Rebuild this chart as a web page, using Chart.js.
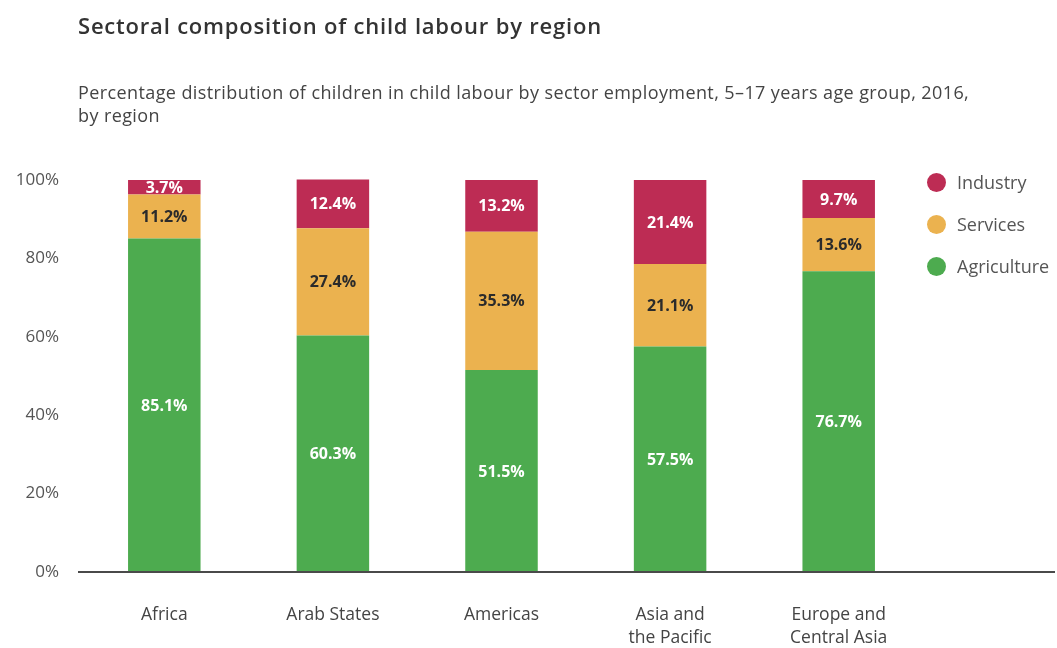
<!DOCTYPE html>
<html lang="en">

<head>
    <meta charset="UTF-8" />
    <title>Sectoral composition of child labour by region</title>
    <script src="https://cdn.jsdelivr.net/npm/chart.js"></script>
    <style>
        body {
            margin: 0;
            background: #fff;
            font-family: "Open Sans", sans-serif;
        }

        .wrap {
            position: relative;
            width: 1057px;
            height: 648px;
        }

        .title {
            position: absolute;
            left: 78px;
            top: 10px;
            font-size: 22px;
            letter-spacing: 0.8px;
            font-weight: 600;
            color: #333;
        }

        .subtitle {
            position: absolute;
            left: 78px;
            top: 81px;
            width: 905px;
            font-size: 18px;
            letter-spacing: 0.4px;
            line-height: 23px;
            color: #444;
        }

        .legend {
            position: absolute;
            left: 927px;
            top: 170px;
            margin: 0;
            padding: 0;
            list-style: none;
        }

        .legend li {
            display: flex;
            align-items: center;
            height: 24px;
            margin-bottom: 18px;
            font-size: 18px;
            color: #555;
        }

        .legend .dot {
            width: 19px;
            height: 19px;
            border-radius: 50%;
            margin-right: 11px;
        }

        canvas {
            position: absolute;
            left: 0;
            top: 0;
        }
    </style>
</head>

<body>
    <div class="wrap">
        <canvas id="sectorChart"></canvas>
        <div class="title">Sectoral composition of child labour by region</div>
        <div class="subtitle">Percentage distribution of children in child labour by sector employment, 5–17 years age group, 2016, by region</div>
        <ul class="legend" id="legend"></ul>
    </div>

    <script>
        // data
        const regions = ["Africa", "Arab States", "Americas", ["Asia and", "the Pacific"], ["Europe and", "Central Asia"]];
        const agriculture = [85.1, 60.3, 51.5, 57.5, 76.7];
        const services = [11.2, 27.4, 35.3, 21.1, 13.6];
        const industry = [3.7, 12.4, 13.2, 21.4, 9.7];
        const yTicks = [0, 20, 40, 60, 80, 100];

        const colors = {
            Agriculture: "#4dab4f",
            Services: "#ebb24f",
            Industry: "#bd2c54",
        };

        // labels inside each stacked segment
        const segmentLabels = {
            id: "segmentLabels",
            afterDatasetsDraw(chart) {
                const ctx = chart.ctx;
                ctx.save();
                ctx.font = "bold 16px 'Open Sans'";
                ctx.textAlign = "center";
                ctx.textBaseline = "middle";
                chart.data.datasets.forEach((ds, i) => {
                    chart.getDatasetMeta(i).data.forEach((bar, j) => {
                        ctx.fillStyle = ds.labelColor;
                        ctx.fillText(ds.data[j].toFixed(1) + "%", bar.x, (bar.y + bar.base) / 2 + 1);
                    });
                });
                ctx.restore();
            },
        };

        // baseline runs under the legend too
        const baseline = {
            id: "baseline",
            afterDatasetsDraw(chart) {
                const ctx = chart.ctx;
                const y = chart.scales.y.getPixelForValue(0);
                ctx.save();
                ctx.strokeStyle = "#4a4a4a";
                ctx.lineWidth = 2;
                ctx.beginPath();
                ctx.moveTo(chart.chartArea.left - 2, y);
                ctx.lineTo(chart.width - 2, y);
                ctx.stroke();
                ctx.restore();
            },
        };

        const ctx = document.getElementById("sectorChart").getContext("2d");

        new Chart(ctx, {
            type: "bar",
            data: {
                labels: regions,
                datasets: [
                    { label: "Agriculture", data: agriculture, backgroundColor: colors.Agriculture, labelColor: "#ffffff" },
                    { label: "Services", data: services, backgroundColor: colors.Services, labelColor: "#2b2b2b" },
                    { label: "Industry", data: industry, backgroundColor: colors.Industry, labelColor: "#ffffff" },
                ],
            },
            options: {
                responsive: true,
                maintainAspectRatio: false,
                animation: false,
                layout: {
                    padding: { top: 180, right: 134, bottom: 0, left: 0 },
                },
                datasets: {
                    bar: {
                        categoryPercentage: 1,
                        barPercentage: 0.43,
                        borderWidth: 0,
                        clip: false,
                    },
                },
                scales: {
                    x: {
                        stacked: true,
                        grid: { display: false, drawTicks: false },
                        border: { display: false },
                        afterFit: (scale) => {
                            scale.height = 76;
                        },
                        ticks: {
                            padding: 32,
                            color: "#444",
                            font: { family: "Open Sans", size: 17.5, lineHeight: 1.3 },
                        },
                    },
                    y: {
                        stacked: true,
                        min: 0,
                        max: 100,
                        grid: { display: false, drawTicks: false },
                        border: { display: false },
                        afterBuildTicks: (scale) => {
                            scale.ticks = yTicks.map((v) => ({ value: v }));
                        },
                        afterFit: (scale) => {
                            scale.width = 80;
                        },
                        ticks: {
                            padding: 21,
                            color: "#555",
                            font: { family: "Open Sans", size: 17 },
                            callback: (v) => v + "%",
                        },
                    },
                },
                plugins: {
                    legend: { display: false },
                    tooltip: { enabled: false },
                },
            },
            plugins: [baseline, segmentLabels],
        });

        // legend, top to bottom like the reference
        const legend = document.getElementById("legend");
        ["Industry", "Services", "Agriculture"].forEach((name) => {
            const li = document.createElement("li");
            li.innerHTML = `<span class="dot" style="background:${colors[name]}"></span>${name}`;
            legend.appendChild(li);
        });
    </script>
</body>

</html>
